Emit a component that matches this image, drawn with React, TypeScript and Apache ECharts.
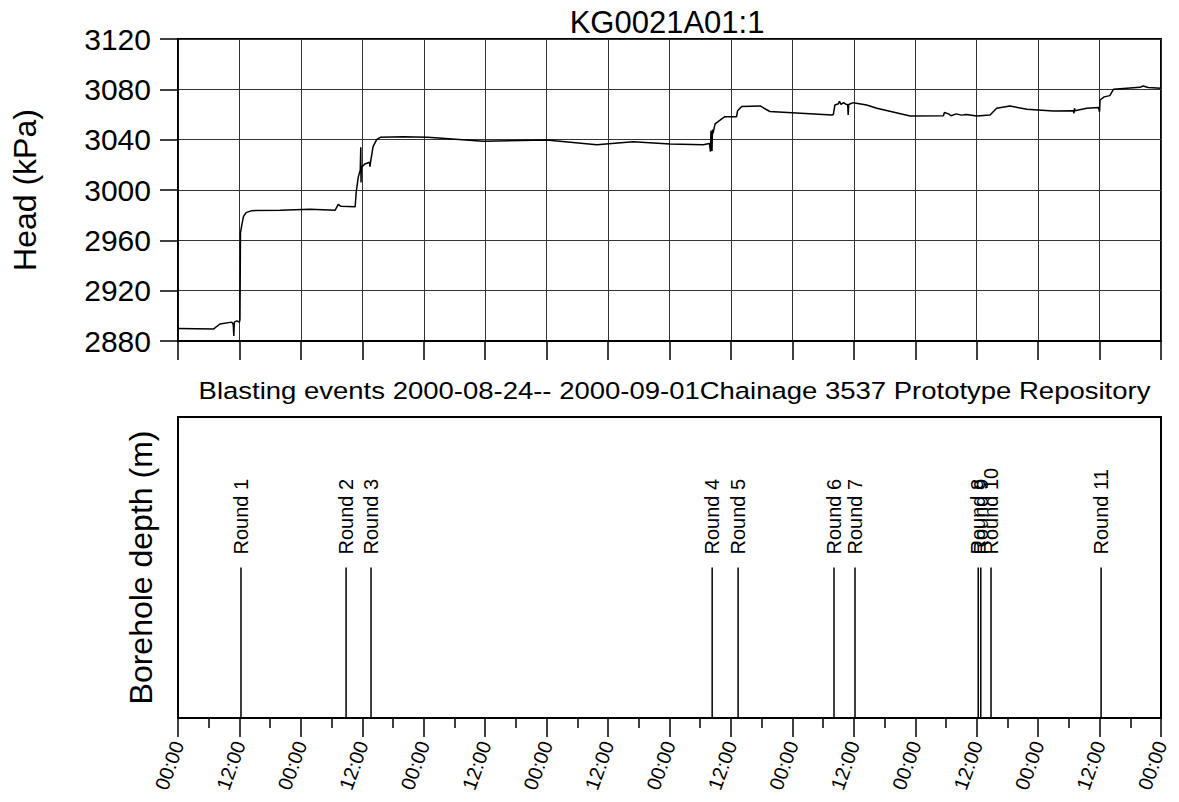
import React, { useEffect, useRef } from "react";
import * as echarts from "echarts";

const FONT = "Liberation Sans, Arial, sans-serif";

// Head time series (time of reading, MM-DD HH:mm, year 2000)
const headTimes = [
  "08-24 00:00", "08-24 06:54", "08-24 08:12", "08-24 10:30", "08-24 10:48", "08-24 10:54",
  "08-24 11:00", "08-24 11:30", "08-24 12:00", "08-24 12:06", "08-24 12:12", "08-24 12:30",
  "08-24 12:48", "08-24 13:18", "08-24 14:24", "08-24 20:00", "08-25 01:48", "08-25 06:42",
  "08-25 07:18", "08-25 07:48", "08-25 10:36", "08-25 10:48", "08-25 11:12", "08-25 11:36",
  "08-25 11:42", "08-25 11:45", "08-25 11:48", "08-25 12:30", "08-25 13:24", "08-25 13:30",
  "08-25 13:36", "08-25 14:06", "08-25 14:48", "08-25 15:30", "08-25 20:00", "08-26 00:48",
  "08-26 11:36", "08-27 00:00", "08-27 09:48", "08-27 16:54", "08-28 00:06", "08-28 06:36",
  "08-28 07:48", "08-28 08:00", "08-28 08:06", "08-28 08:18", "08-28 08:24", "08-28 08:30",
  "08-28 08:54", "08-28 10:48", "08-28 13:06", "08-28 13:18", "08-28 14:06", "08-28 17:42",
  "08-28 19:36", "08-29 07:42", "08-29 08:00", "08-29 08:18", "08-29 09:00", "08-29 09:12",
  "08-29 09:30", "08-29 10:00", "08-29 10:30", "08-29 10:48", "08-29 10:54", "08-29 11:00",
  "08-29 11:54", "08-29 14:30", "08-29 16:30", "08-29 23:00", "08-30 05:30", "08-30 05:42",
  "08-30 06:30", "08-30 07:00", "08-30 08:00", "08-30 09:00", "08-30 10:00", "08-30 12:00",
  "08-30 14:36", "08-30 15:54", "08-30 18:30", "08-30 21:48", "08-31 03:00", "08-31 06:54",
  "08-31 07:00", "08-31 07:06", "08-31 07:12", "08-31 09:30", "08-31 11:48", "08-31 12:00",
  "08-31 12:06", "08-31 12:54", "08-31 14:00", "08-31 14:42", "08-31 19:54", "08-31 20:30",
  "08-31 21:30", "09-01 00:00",
];
const headValues = [
  2890, 2889.5, 2893.5, 2895, 2893, 2884,
  2895, 2896, 2895, 2897, 2966, 2973,
  2979, 2982, 2983.6, 2984, 2984.7, 2984,
  2988.6, 2987, 2986.7, 2998, 3010, 3016,
  3034, 3006, 3018, 3020.7, 3022, 3018.5,
  3022, 3034.4, 3040, 3041.9, 3042.4, 3042,
  3038.7, 3039.7, 3036, 3038.4, 3036.6, 3036,
  3037, 3030.4, 3047, 3031, 3048, 3045,
  3052.5, 3058.3, 3058.3, 3063, 3066.3, 3066.8,
  3062.4, 3059.6, 3060, 3067.5, 3068.5, 3070.5,
  3068, 3069.5, 3068, 3068, 3059.6, 3068,
  3069.4, 3067.5, 3064.9, 3058.8, 3059, 3061.6,
  3060.5, 3059, 3060.5, 3059.5, 3060, 3058.8,
  3059.6, 3064.9, 3066.8, 3064.1, 3062.8, 3063,
  3061, 3065, 3063, 3064.9, 3065.6, 3062.2,
  3071.5, 3074, 3075, 3080, 3081.6, 3082.6,
  3081.5, 3080.8,
];

// Blasting events
const eventNames = [
  "Round 1", "Round 2", "Round 3", "Round 4", "Round 5", "Round 6",
  "Round 7", "Round 8", "Round 9", "Round 10", "Round 11",
];
const eventTimes = [
  "08-24 12:18", "08-25 08:50", "08-25 13:42", "08-28 08:20", "08-28 13:24", "08-29 08:08",
  "08-29 12:14", "08-30 12:18", "08-30 12:48", "08-30 14:48", "08-31 12:18",
];

const yTicks = { min: 2880, max: 3120, interval: 40 };
const startTime = "08-24 00:00";
const endTime = "09-01 00:00";
const titleText = "KG0021A01:1";
const subTitleText = "Blasting events 2000-08-24-- 2000-09-01Chainage 3537 Prototype Repository";

const parseT = (s: string) =>
  Date.UTC(2000, +s.slice(0, 2) - 1, +s.slice(3, 5), +s.slice(6, 8), +s.slice(9, 11));

const HOUR = 3600 * 1000;

export default function App() {
  const ref = useRef<HTMLDivElement>(null);
  useEffect(() => {
    if (!ref.current) return;
    const chart = echarts.init(ref.current, undefined, { renderer: "svg" });
    const t0 = parseT(startTime);
    const t1 = parseT(endTime);
    const headData = headTimes.map((s, i) => [parseT(s), headValues[i]]);
    const eventData = eventTimes.map((s, i) => [parseT(s), 1, eventNames[i]]);

    const plotLeft = 178;
    const plotWidth = 983;

    chart.setOption({
      animation: false,
      backgroundColor: "#fff",
      textStyle: { fontFamily: FONT },
      title: [
        {
          text: titleText,
          left: 662,
          top: 2,
          textAlign: "center",
          textStyle: { fontSize: 31, fontWeight: "normal", color: "#000", fontFamily: FONT },
        },
      ],
      graphic: [
        {
          type: "text",
          x: 674.5,
          y: 391,
          scaleX: 1.17,
          silent: true,
          style: {
            text: subTitleText,
            fontSize: 23.5,
            fontFamily: FONT,
            fill: "#000",
            align: "center",
            verticalAlign: "middle",
          },
        },
      ],
      grid: [
        { left: plotLeft, top: 39, width: plotWidth, height: 302, show: true, borderColor: "#000", borderWidth: 2 },
        { left: plotLeft, top: 417, width: plotWidth, height: 301, show: true, borderColor: "#000", borderWidth: 2 },
      ],
      xAxis: [
        {
          gridIndex: 0,
          type: "value",
          min: t0,
          max: t1,
          interval: 12 * HOUR,
          axisLine: { show: true, onZero: false, lineStyle: { color: "#000", width: 2 } },
          axisTick: { show: true, length: 19, lineStyle: { color: "#000", width: 1.5 } },
          axisLabel: { show: false },
          splitLine: { show: true, lineStyle: { color: "#333", width: 1 } },
        },
        {
          gridIndex: 1,
          type: "value",
          min: t0,
          max: t1,
          interval: 12 * HOUR,
          axisLine: { show: true, onZero: false, lineStyle: { color: "#000", width: 2 } },
          axisTick: { show: true, length: 19, lineStyle: { color: "#000", width: 1.5 } },
          minorTick: { show: true, splitNumber: 2, length: 10, lineStyle: { color: "#000", width: 1.5 } },
          splitLine: { show: false },
          axisLabel: {
            show: true,
            rotate: 70,
            margin: 24,
            fontSize: 20,
            color: "#000",
            fontFamily: FONT,
            formatter: (v: number) => (new Date(v).getUTCHours() === 12 ? "12:00" : "00:00"),
          },
        },
      ],
      yAxis: [
        {
          gridIndex: 0,
          type: "value",
          min: yTicks.min,
          max: yTicks.max,
          interval: yTicks.interval,
          name: "Head (kPa)",
          nameLocation: "middle",
          nameGap: 137,
          nameTextStyle: { fontSize: 32, color: "#000", fontFamily: FONT },
          axisLine: { show: true, lineStyle: { color: "#000", width: 1.5 } },
          axisTick: { show: true, length: 18, lineStyle: { color: "#000", width: 1.5 } },
          axisLabel: {
            fontSize: 30,
            color: "#000",
            margin: 27,
            fontFamily: FONT,
            formatter: (v: number) => String(v),
          },
          splitLine: { show: true, lineStyle: { color: "#333", width: 1 } },
        },
        {
          gridIndex: 1,
          type: "value",
          min: 0,
          max: 2,
          name: "Borehole depth (m)",
          nameLocation: "middle",
          nameGap: 21,
          nameTextStyle: { fontSize: 32, color: "#000", fontFamily: FONT },
          axisLine: { show: true, lineStyle: { color: "#000", width: 1.5 } },
          axisTick: { show: false },
          axisLabel: { show: false },
          splitLine: { show: false },
        },
      ],
      series: [
        {
          type: "line",
          xAxisIndex: 0,
          yAxisIndex: 0,
          data: headData,
          showSymbol: false,
          symbol: "none",
          lineStyle: { color: "#000", width: 1.5 },
        },
        {
          type: "custom",
          xAxisIndex: 1,
          yAxisIndex: 1,
          data: eventData,
          renderItem: (params: any, api: any) => {
            const x = api.value(0);
            const p0 = api.coord([x, 0]);
            const p1 = api.coord([x, api.value(1)]);
            const name = eventNames[params.dataIndex];
            return {
              type: "group",
              children: [
                {
                  type: "line",
                  shape: { x1: p0[0], y1: p0[1], x2: p1[0], y2: p1[1] },
                  style: { stroke: "#000", lineWidth: 1.5 },
                },
                {
                  type: "text",
                  x: p1[0],
                  y: p1[1] - 13,
                  rotation: Math.PI / 2,
                  style: {
                    text: name,
                    fontSize: 20,
                    fontFamily: FONT,
                    fill: "#000",
                    align: "left",
                    verticalAlign: "middle",
                  },
                },
              ],
            };
          },
        },
      ],
    });
    return () => chart.dispose();
  }, []);
  return (
    <div
      ref={ref}
      style={{ position: "fixed", left: 0, top: 0, width: 1179, height: 802, background: "#fff" }}
    />
  );
}
